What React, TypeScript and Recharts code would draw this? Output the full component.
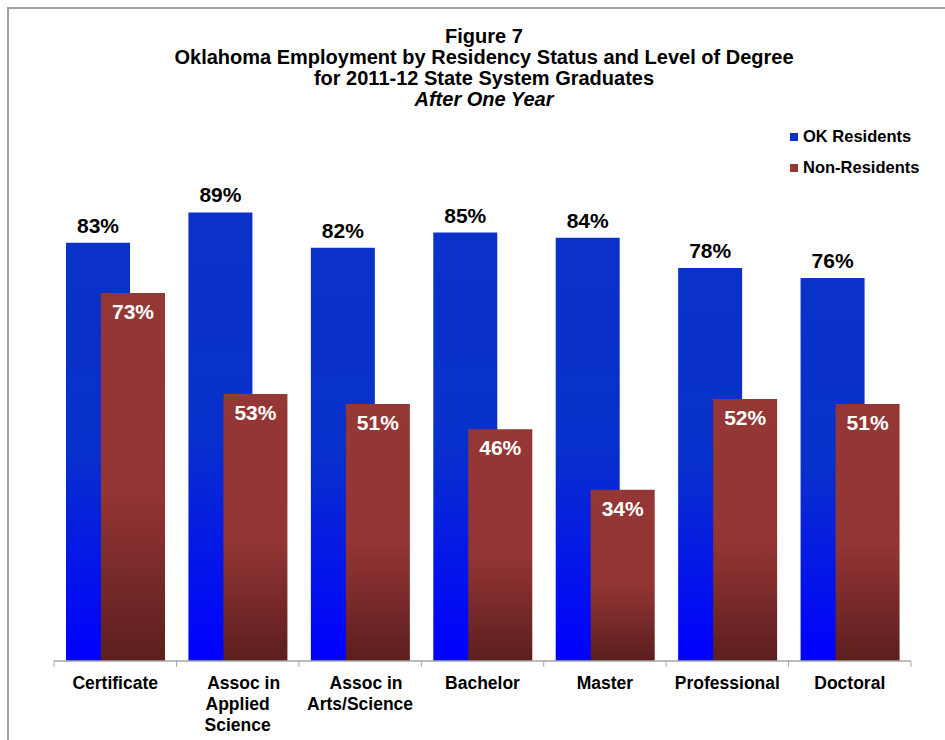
import React from "react";
import { BarChart, Bar, XAxis, YAxis, LabelList } from "recharts";

const categories = ["Certificate", "Assoc in Applied Science", "Assoc in Arts/Science", "Bachelor", "Master", "Professional", "Doctoral"];
const tickLines: string[][] = [["Certificate"], ["Assoc in", "Applied", "Science"], ["Assoc in", "Arts/Science"], ["Bachelor"], ["Master"], ["Professional"], ["Doctoral"]];
const okResidents = [83, 89, 82, 85, 84, 78, 76];
const nonResidents = [73, 53, 51, 46, 34, 52, 51];
const seriesNames = ["OK Residents", "Non-Residents"];
const seriesColors = ["#0a32c8", "#953735"];
const titleLines = ["Figure 7", "Oklahoma Employment by Residency Status and Level of Degree", "for 2011-12 State System Graduates"];
const subtitle = "After One Year";

const data = categories.map((c, i) => ({ name: c, ok: okResidents[i], non: nonResidents[i], idx: i }));

const FONT = "'Liberation Sans', Arial, sans-serif";

const CustomTick = (props: any) => {
  const { x, y, payload, index } = props;
  const half = payload && payload.offset ? payload.offset : 61;
  const i0 = payload.index ?? index;
  const lines = tickLines[i0] || [String(payload.value)];
  const isLast = i0 === categories.length - 1;
  const axisY = y - 8;
  return (
    <g>
      <line x1={x - half} x2={x - half} y1={axisY} y2={axisY + 6} stroke="#a6a6a6" strokeWidth={1} />
      {isLast ? <line x1={x + half} x2={x + half} y1={axisY} y2={axisY + 6} stroke="#a6a6a6" strokeWidth={1} /> : null}
      <text x={x} y={axisY + 28} textAnchor="middle" fontFamily={FONT} fontWeight="bold" fontSize={17.5} fill="#000">
        {lines.map((l, i) => (
          <tspan key={i} x={lines.length > 1 && i === 0 ? x + 6 : x} dy={i === 0 ? 0 : 21}>{l}</tspan>
        ))}
      </text>
    </g>
  );
};

const LegendBox = () => (
  <div style={{ position: "absolute", left: 790, top: 121, fontFamily: FONT, fontWeight: "bold", fontSize: 16.5, color: "#000" }}>
    {seriesNames.map((n, i) => (
      <div key={n} style={{ display: "flex", alignItems: "center", height: 31, whiteSpace: "nowrap" }}>
        <span style={{ display: "inline-block", width: 8, height: 8, background: seriesColors[i], marginRight: 5 }} />
        <span>{n}</span>
      </div>
    ))}
  </div>
);

export default function App() {
  return (
    <div style={{ position: "absolute", left: 0, top: 0, width: 945, height: 740, background: "#fff", overflow: "hidden" }}>
      <div style={{ position: "absolute", left: 7, top: 7, width: 960, height: 760, border: "2px solid #a0a0a0", boxSizing: "border-box" }} />
      <div style={{ position: "absolute", left: 0, top: 26, width: 968, textAlign: "center", fontFamily: FONT, fontWeight: "bold", fontSize: 20, lineHeight: "21px", color: "#000" }}>
        {titleLines.map((t) => (
          <div key={t}>{t}</div>
        ))}
        <div style={{ fontStyle: "italic" }}>{subtitle}</div>
      </div>
      <div style={{ position: "absolute", left: 0, top: 0 }}>
        <BarChart width={945} height={740} data={data} margin={{ top: 157, right: 34, left: 54, bottom: 19 }} barSize={64} barGap={-29} barCategoryGap={0}>
          <defs>
            <linearGradient id="gradBlue" x1="0" y1="0" x2="0" y2="1">
              <stop offset="0" stopColor="#0a32c8" />
              <stop offset="0.5" stopColor="#0830cc" />
              <stop offset="1" stopColor="#0000ff" />
            </linearGradient>
            <linearGradient id="gradRed" x1="0" y1="0" x2="0" y2="1">
              <stop offset="0" stopColor="#953735" />
              <stop offset="0.55" stopColor="#923534" />
              <stop offset="1" stopColor="#5c1e1e" />
            </linearGradient>
          </defs>
          <XAxis dataKey="name" axisLine={{ stroke: "#a6a6a6", strokeWidth: 1.5 }} tickLine={false} interval={0} height={60} tick={<CustomTick />} />
          <YAxis hide domain={[0, 100]} />
          <Bar dataKey="ok" name={seriesNames[0]} fill="url(#gradBlue)" isAnimationActive={false}>
            <LabelList dataKey="ok" position="top" offset={10} formatter={(v: any) => `${v}%`} style={{ fill: "#000", fontFamily: FONT, fontWeight: "bold", fontSize: 21 }} />
          </Bar>
          <Bar dataKey="non" name={seriesNames[1]} fill="url(#gradRed)" isAnimationActive={false}>
            <LabelList dataKey="non" position="insideTop" offset={11} formatter={(v: any) => `${v}%`} style={{ fill: "#fff", fontFamily: FONT, fontWeight: "bold", fontSize: 21 }} />
          </Bar>
        </BarChart>
      </div>
      <LegendBox />
    </div>
  );
}
